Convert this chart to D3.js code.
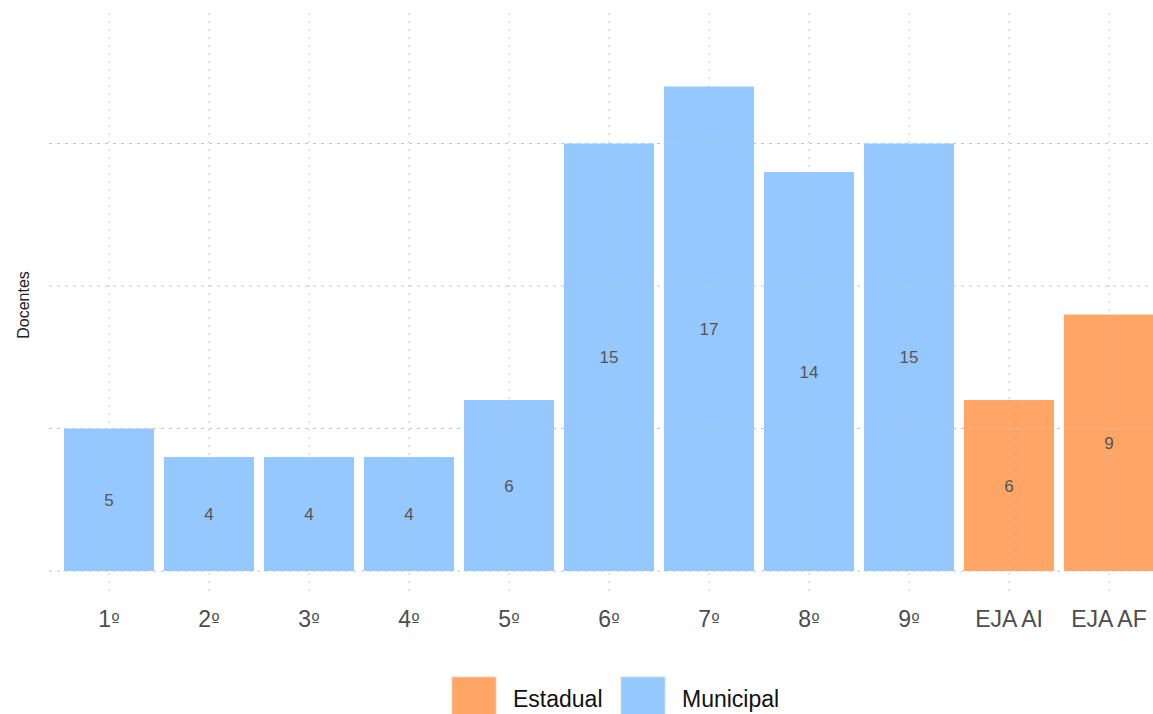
<!DOCTYPE html>
<html><head><meta charset="utf-8">
<script src="https://cdn.jsdelivr.net/npm/d3@7"></script>
<style>body{margin:0;background:#fff}svg{display:block}</style>
</head><body>
<svg id="c" width="1153" height="714"></svg>
<script>
const categories = ["1º","2º","3º","4º","5º","6º","7º","8º","9º","EJA AI","EJA AF"];
const values = [5,4,4,4,6,15,17,14,15,6,9];
const rede = ["Municipal","Municipal","Municipal","Municipal","Municipal","Municipal","Municipal","Municipal","Municipal","Estadual","Estadual"];
const yTicks = [0,5,10,15];
const legendItems = ["Estadual","Municipal"];
const colors = {Estadual:"#FFA566", Municipal:"#94C8FE"};

const svg = d3.select("#c");
const font = "'Liberation Sans', Arial, Helvetica, sans-serif";
const x = d3.scaleBand().domain(categories).range([59,1159]).paddingInner(0.1).paddingOuter(0.05);
const y = d3.scaleLinear().domain([-0.91,19.58]).range([597,13]);

const g = svg.append("g");
g.selectAll("rect.bar").data(values).join("rect")
  .attr("x",(d,i)=>x(categories[i])).attr("width",x.bandwidth())
  .attr("y",d=>y(d)).attr("height",d=>y(0)-y(d))
  .attr("fill",(d,i)=>colors[rede[i]]);
g.selectAll("line.h").data(yTicks).join("line")
  .attr("x1",49).attr("x2",1153).attr("y1",d=>y(d)).attr("y2",d=>y(d))
  .attr("stroke","#c4c4c4").attr("stroke-width",1).attr("stroke-dasharray","3,5");
g.selectAll("line.v").data(categories).join("line")
  .attr("x1",d=>x(d)+x.bandwidth()/2).attr("x2",d=>x(d)+x.bandwidth()/2)
  .attr("y1",13).attr("y2",597)
  .attr("stroke","#c4c4c4").attr("stroke-width",1).attr("stroke-dasharray","2,6");
g.selectAll("text.val").data(values).join("text")
  .attr("x",(d,i)=>x(categories[i])+x.bandwidth()/2).attr("y",d=>y(d/2))
  .attr("dy","0.35em").attr("text-anchor","middle")
  .attr("font-family",font).attr("font-size",17).attr("fill","#555")
  .text(d=>d);
const xa = svg.append("g").attr("transform","translate(0,597)")
  .call(d3.axisBottom(x).tickSize(0).tickPadding(0));
xa.select(".domain").remove();
xa.selectAll("text").attr("y",22).attr("dy","0.35em").attr("font-family",font).attr("font-size",23).attr("fill","#4d4d4d")
  .each(function(d){
    const t = d3.select(this); t.text(null);
    const parts = d.split("º");
    t.append("tspan").text(parts[0]);
    if (d.includes("º")) t.append("tspan").attr("font-family","'DejaVu Sans', sans-serif").attr("font-size",18).text("º");
  });
svg.append("text").attr("transform","translate(29,305) rotate(-90)")
  .attr("text-anchor","middle").attr("font-family",font).attr("font-size",16).attr("fill","#222")
  .text("Docentes");
const leg = svg.append("g");
const lx = [451,620];
legendItems.forEach((k,i)=>{
  leg.append("rect").attr("x",lx[i]+0.5).attr("y",676.5).attr("width",45).attr("height",45)
    .attr("fill",colors[k]).attr("stroke","#eeeeee").attr("stroke-width",1.5);
  leg.append("text").attr("x",lx[i]+62).attr("y",699).attr("dy","0.35em")
    .attr("font-family",font).attr("font-size",23).attr("fill","#111").text(k);
});
</script>
</body></html>
